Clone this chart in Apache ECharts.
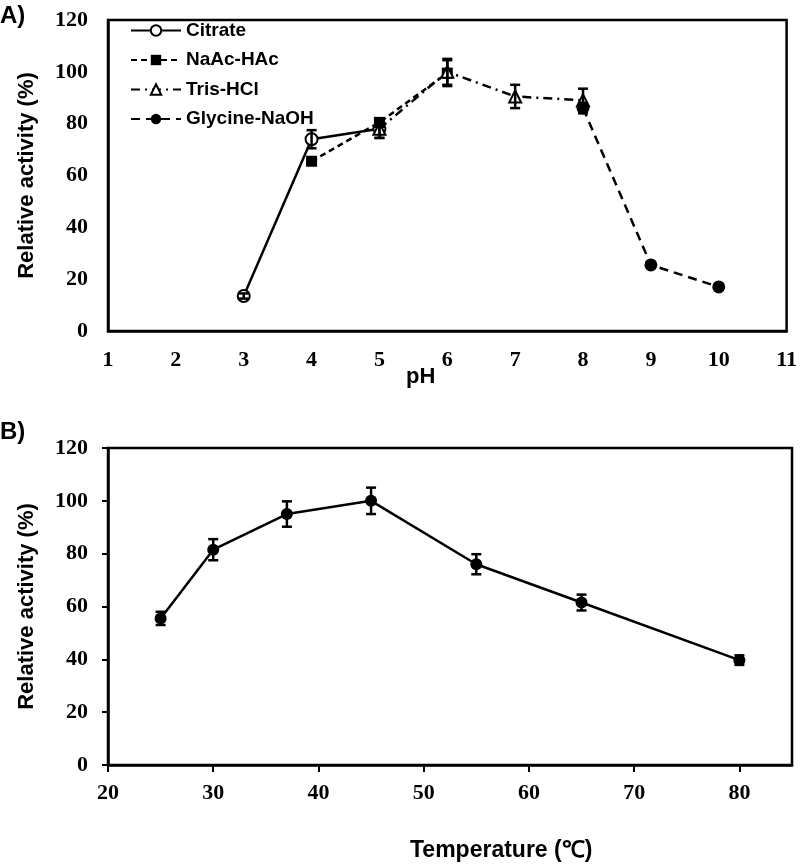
<!DOCTYPE html>
<html>
<head>
<meta charset="utf-8">
<script src="https://cdn.jsdelivr.net/npm/echarts@6/dist/echarts.min.js"></script>
<style>
  html, body { margin: 0; padding: 0; background: #fff; }
  #main { width: 800px; height: 866px; }
</style>
</head>
<body>
<div id="main"></div>
<script>
// A) pH profile, one series per buffer
var citratePH = [3, 4, 5];
var citrateAct = [13.5, 74, 78];
var citrateErr = [1, 3.5, 3.5];

var nacPH = [4, 5, 6];
var nacAct = [65.5, 80.5, 99.5];
var nacErr = [1, 1.5, 5];

var trisPH = [5, 6, 7, 8];
var trisAct = [78, 100, 90.5, 89];
var trisErr = [3.5, 5, 4.5, 4.5];

var glyPH = [8, 9, 10];
var glyAct = [86, 25.5, 17];
var glyErr = [2, 1, 1];

// B) temperature profile
var tempC = [25, 30, 37, 45, 55, 65, 80];
var tempAct = [55.5, 81.5, 95, 100, 76, 61.5, 39.7];
var tempErr = [2.5, 4, 4.8, 5, 3.8, 3, 1.8];

var tickFont = '"Liberation Serif", "Times New Roman", serif';
var sansFont = '"Liberation Sans", Arial, sans-serif';

function zip(xs, ys) {
	return xs.map(function (x, i) { return [x, ys[i]]; });
}
function zipErr(xs, ys, es) {
	return xs.map(function (x, i) { return [x, ys[i] - es[i], ys[i] + es[i]]; });
}

// 误差线
function errorSeries(idx, xs, ys, es) {
	return {
		type: 'custom',
		xAxisIndex: idx,
		yAxisIndex: idx,
		z: 5,
		silent: true,
		data: zipErr(xs, ys, es),
		renderItem: function (params, api) {
			var x = api.value(0);
			var lo = api.coord([x, api.value(1)]);
			var hi = api.coord([x, api.value(2)]);
			var w = 5;
			var st = { stroke: '#000', lineWidth: 2.5 };
			return {
				type: 'group',
				children: [
					{ type: 'line', shape: { x1: hi[0], y1: hi[1], x2: lo[0], y2: lo[1] }, style: st },
					{ type: 'line', shape: { x1: hi[0] - w, y1: hi[1], x2: hi[0] + w, y2: hi[1] }, style: st },
					{ type: 'line', shape: { x1: lo[0] - w, y1: lo[1], x2: lo[0] + w, y2: lo[1] }, style: st }
				]
			};
		}
	};
}

function lineSeries(name, idx, xs, ys, symbol, size, dash) {
	return {
		name: name,
		type: 'line',
		xAxisIndex: idx,
		yAxisIndex: idx,
		z: 4,
		symbol: symbol,
		symbolSize: size,
		lineStyle: { color: '#000', width: 2.5, type: dash },
		itemStyle: { color: '#000', borderWidth: 2 },
		data: zip(xs, ys)
	};
}

var yLabel = { color: '#000', fontFamily: tickFont, fontWeight: 'bold', fontSize: 22 };
var yName = { color: '#000', fontFamily: sansFont, fontWeight: 'bold', fontSize: 22 };

var myChart = echarts.init(document.getElementById('main'));
var option = {
	animation: false,
	backgroundColor: '#fff',
	grid: [
		{ left: 108, top: 20, width: 680, height: 311, show: true, borderColor: '#000', borderWidth: 2.5 },
		{ left: 108, top: 448, width: 684, height: 317, show: true, borderColor: '#000', borderWidth: 2.5 }
	],
	legend: {
		data: ['Citrate', 'NaAc-HAc', 'Tris-HCl', 'Glycine-NaOH'],
		orient: 'vertical',
		left: 125,
		top: 16,
		itemWidth: 50,
		itemHeight: 13,
		itemGap: 10.5,
		textStyle: { color: '#000', fontFamily: sansFont, fontWeight: 'bold', fontSize: 19 }
	},
	xAxis: [{
		gridIndex: 0,
		type: 'value',
		min: 1,
		max: 11,
		interval: 1,
		axisLine: { show: true, lineStyle: { color: '#000', width: 2.5 } },
		axisTick: { show: false },
		splitLine: { show: false },
		axisLabel: { color: '#000', fontFamily: tickFont, fontWeight: 'bold', fontSize: 22, margin: 18 }
	}, {
		gridIndex: 1,
		type: 'value',
		min: 20,
		max: 85,
		interval: 10,
		axisLine: { show: true, lineStyle: { color: '#000', width: 2.5 } },
		axisTick: { show: true, length: 7, lineStyle: { color: '#000', width: 2 } },
		splitLine: { show: false },
		axisLabel: { color: '#000', fontFamily: tickFont, fontWeight: 'bold', fontSize: 22, margin: 17, showMaxLabel: false }
	}],
	yAxis: [{
		gridIndex: 0,
		type: 'value',
		min: 0,
		max: 120,
		interval: 20,
		name: 'Relative activity (%)',
		nameLocation: 'middle',
		nameGap: 70,
		nameTextStyle: yName,
		axisLine: { show: true, lineStyle: { color: '#000', width: 2.5 } },
		axisTick: { show: false },
		splitLine: { show: false },
		axisLabel: Object.assign({ margin: 20 }, yLabel)
	}, {
		gridIndex: 1,
		type: 'value',
		min: 0,
		max: 120,
		interval: 20,
		name: 'Relative activity (%)',
		nameLocation: 'middle',
		nameGap: 70,
		nameTextStyle: yName,
		axisLine: { show: true, lineStyle: { color: '#000', width: 2.5 } },
		axisTick: { show: true, length: 6, lineStyle: { color: '#000', width: 2 } },
		splitLine: { show: false },
		axisLabel: Object.assign({ margin: 20 }, yLabel)
	}],
	graphic: [
		{ type: 'text', left: 0, top: 4, style: { text: 'A)', fill: '#000', font: 'bold 24px ' + sansFont } },
		{ type: 'text', left: 0, top: 420, style: { text: 'B)', fill: '#000', font: 'bold 24px ' + sansFont } },
		{ type: 'text', left: 406, top: 366, style: { text: 'pH', fill: '#000', font: 'bold 22px ' + sansFont } },
		{ type: 'text', left: 410, top: 839, style: { text: 'Temperature (℃)', fill: '#000', font: 'bold 23px ' + sansFont } }
	],
	series: [
		lineSeries('Citrate', 0, citratePH, citrateAct, 'emptyCircle', 12, 'solid'),
		lineSeries('NaAc-HAc', 0, nacPH, nacAct, 'rect', 11, [6, 4]),
		lineSeries('Tris-HCl', 0, trisPH, trisAct, 'emptyTriangle', 12, [9, 5, 2, 5]),
		lineSeries('Glycine-NaOH', 0, glyPH, glyAct, 'circle', 13, [9, 6]),
		errorSeries(0, citratePH, citrateAct, citrateErr),
		errorSeries(0, nacPH, nacAct, nacErr),
		errorSeries(0, trisPH, trisAct, trisErr),
		errorSeries(0, glyPH, glyAct, glyErr),
		{
			name: 'Temperature',
			type: 'line',
			xAxisIndex: 1,
			yAxisIndex: 1,
			z: 4,
			symbol: 'circle',
			symbolSize: 12,
			lineStyle: { color: '#000', width: 2.5 },
			itemStyle: { color: '#000' },
			data: zip(tempC, tempAct)
		},
		errorSeries(1, tempC, tempAct, tempErr)
	]
};
myChart.setOption(option);
</script>
</body>
</html>
